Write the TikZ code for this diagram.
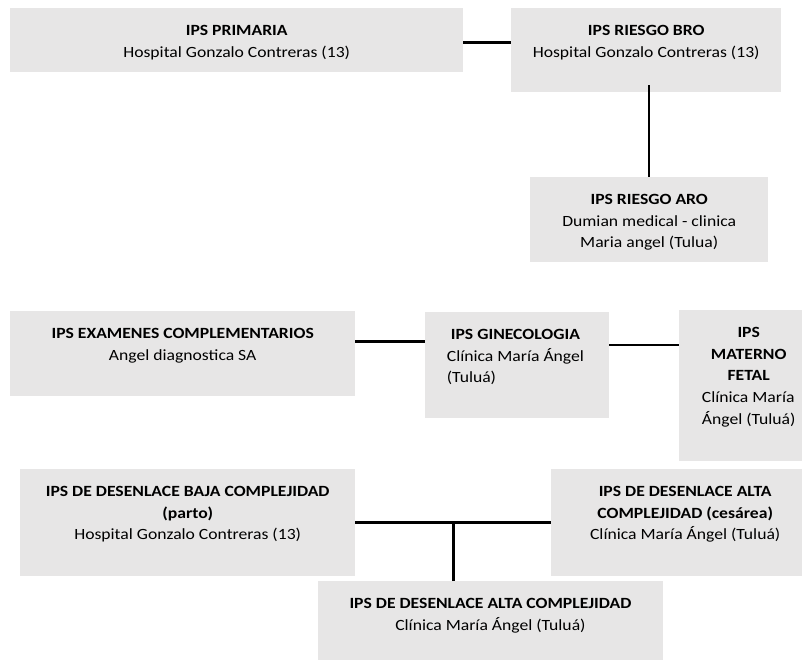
\documentclass[tikz,border=0pt]{standalone}
\usepackage{fontspec}
\setmainfont{Carlito}[FakeStretch=1.13]
\definecolor{boxgray}{RGB}{231,230,230}
\begin{document}
\begin{tikzpicture}[x=1pt,y=-1pt,
  box/.style 2 args={fill=boxgray, draw=none, inner sep=0pt, anchor=north west, minimum width=#1, minimum height=#2},
  txt/.style={inner sep=0pt, font=\fontsize{15.6}{21.7}\selectfont, text=black},
  conn/.style={line width=2.5pt, black}]
\useasboundingbox (0,0) rectangle (802,660);
\clip (0,0) rectangle (802,660);
% boxes
\node[box={453}{64}]   (prim) at (10,8) {};
\node[box={270}{84}]   (bro)  at (511,8) {};
\node[box={238}{85}]   (aro)  at (530,177) {};
\node[box={345}{85}]   (exam) at (10,311) {};
\node[box={184}{106}]  (gine) at (425,312) {};
\node[box={136}{151}]  (mat)  at (679,310) {};
\node[box={335}{107}]  (baja) at (20,469) {};
\node[box={268}{107}]  (ces)  at (551,469) {};
\node[box={344.5}{110}](alta) at (318,581) {};
% texts
\node[txt, anchor=north] (primt) at ([yshift=-12pt]prim.north) {\begin{tabular}{@{}c@{}}\textbf{IPS PRIMARIA}\\ Hospital Gonzalo Contreras (13)\end{tabular}};
\node[txt, anchor=north] (brot) at ([yshift=-12pt]bro.north) {\begin{tabular}{@{}c@{}}\textbf{IPS RIESGO BRO}\\ Hospital Gonzalo Contreras (13)\end{tabular}};
\node[txt, anchor=north] (arot) at ([yshift=-12pt]aro.north) {\begin{tabular}{@{}c@{}}\textbf{IPS RIESGO ARO}\\ Dumian medical - clinica\\ Maria angel (Tulua)\end{tabular}};
\node[txt, anchor=north] (examt) at ([yshift=-12pt]exam.north) {\begin{tabular}{@{}c@{}}\textbf{IPS EXAMENES COMPLEMENTARIOS}\\ Angel diagnostica SA\end{tabular}};
\node[txt, anchor=north west] (ginet) at ([xshift=21.7pt,yshift=-12pt]gine.north west) {\begin{tabular}{@{}l@{}}\multicolumn{1}{@{}c@{}}{\textbf{IPS GINECOLOGIA}}\\ Clínica María Ángel\\ (Tuluá)\end{tabular}};
\node[txt, anchor=north west] (matt) at ([xshift=22.7pt,yshift=-12pt]mat.north west) {\begin{tabular}{@{}l@{}}\multicolumn{1}{@{}c@{}}{\textbf{IPS}}\\ \multicolumn{1}{@{}c@{}}{\textbf{MATERNO}}\\ \multicolumn{1}{@{}c@{}}{\textbf{FETAL}}\\ Clínica María\\ Ángel (Tuluá)\end{tabular}};
\node[txt, anchor=north] (bajat) at ([yshift=-12pt]baja.north) {\begin{tabular}{@{}c@{}}\textbf{IPS DE DESENLACE BAJA COMPLEJIDAD}\\ \textbf{(parto)}\\ Hospital Gonzalo Contreras (13)\end{tabular}};
\node[txt, anchor=north] (cest) at ([yshift=-12pt]ces.north) {\begin{tabular}{@{}c@{}}\textbf{IPS DE DESENLACE ALTA}\\ \textbf{COMPLEJIDAD (cesárea)}\\ Clínica María Ángel (Tuluá)\end{tabular}};
\node[txt, anchor=north] (altat) at ([yshift=-12pt]alta.north) {\begin{tabular}{@{}c@{}}\textbf{IPS DE DESENLACE ALTA COMPLEJIDAD}\\ Clínica María Ángel (Tuluá)\end{tabular}};
% connectors
\draw[conn] ([yshift=-34.7pt]prim.north east) -- ([yshift=-34.7pt]prim.north east -| bro.west);
\draw[conn] (aro.north) -- ([yshift=7pt]aro.north |- bro.south);
\draw[conn] ([yshift=-30.7pt]exam.north east) -- ([yshift=-30.7pt]exam.north east -| gine.west);
\draw[conn] ([yshift=-33pt]gine.north east) -- ([yshift=-33pt]gine.north east -| mat.west);
\draw[conn] (baja.east) -- (ces.west);
\coordinate (tee) at ([xshift=135.3pt]alta.north west);
\draw[conn] (tee) -- ([yshift=1.5pt]tee |- baja.east);
\end{tikzpicture}
\end{document}
